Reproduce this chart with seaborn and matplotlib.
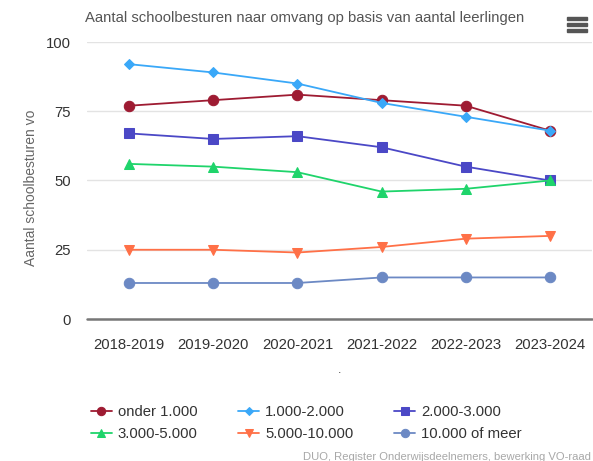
import pandas as pd
import seaborn as sns
import matplotlib
matplotlib.use('Agg')
import matplotlib.pyplot as plt
from matplotlib.patches import Rectangle

years = ['2018-2019', '2019-2020', '2020-2021', '2021-2022', '2022-2023', '2023-2024']
series = ['onder 1.000', '1.000-2.000', '2.000-3.000', '3.000-5.000', '5.000-10.000', '10.000 of meer']
onder_1000 = [77, 79, 81, 79, 77, 68]
v1000_2000 = [92, 89, 85, 78, 73, 68]
v2000_3000 = [67, 65, 66, 62, 55, 50]
v3000_5000 = [56, 55, 53, 46, 47, 50]
v5000_10000 = [25, 25, 24, 26, 29, 30]
v10000_meer = [13, 13, 13, 15, 15, 15]

colors = ['#9e1b32', '#3aa8f8', '#4b48c6', '#1fd46b', '#ff7047', '#6c89c4']
markers = ['o', 'D', 's', '^', 'v', 'o']
msizes = [7.5, 5.5, 7, 7, 7, 7.5]

rows = []
for name, vals in zip(series, [onder_1000, v1000_2000, v2000_3000, v3000_5000, v5000_10000, v10000_meer]):
    for y, v in zip(years, vals):
        rows.append({'jaar': y, 'reeks': name, 'aantal': v})
df = pd.DataFrame(rows)

sns.set_theme(style='white')
plt.rcParams['font.family'] = ['Liberation Sans', 'DejaVu Sans']

fig = plt.figure(figsize=(5.93, 4.61), dpi=100)
ax = fig.add_axes([87 / 593, 1 - 319 / 461, 505 / 593, 277 / 461])

for name, col, mk, ms in zip(series, colors, markers, msizes):
    sub = df[df['reeks'] == name]
    sns.lineplot(data=sub, x='jaar', y='aantal', ax=ax, color=col, marker=mk,
                 markersize=ms, markeredgecolor=col, linewidth=1.3, label=name,
                 sort=False, zorder=3)

ax.set_xlim(-0.5, 5.5)
ax.set_ylim(0, 100)
ax.set_yticks([0, 25, 50, 75, 100])
ax.grid(axis='y', color='#e3e3e3', linewidth=1)
ax.grid(axis='x', visible=False)
for s in ax.spines.values():
    s.set_visible(False)
ax.axhline(0, color='#777777', linewidth=1.8, zorder=4, clip_on=False)
ax.tick_params(axis='both', length=0, labelsize=10.7, colors='#333333')
ax.tick_params(axis='y', pad=11.5)
ax.tick_params(axis='x', pad=14)
ax.set_xlabel('.', fontsize=9, color='#444444', labelpad=8)
ax.set_ylabel('Aantal schoolbesturen vo', fontsize=10, color='#666666', labelpad=6)
ax.yaxis.label.set_y(0.475)

fig.text(305 / 593, 1 - 18 / 461, 'Aantal schoolbesturen naar omvang op basis van aantal leerlingen',
         ha='center', va='center', fontsize=10.75, color='#555555')

# menu icon
for yy in [17, 23, 29]:
    fig.patches.append(Rectangle((567 / 593, 1 - (yy + 3) / 461), 20 / 593, 3 / 461,
                                 transform=fig.transFigure, color='#555555'))

handles, labels = ax.get_legend_handles_labels()
ax.get_legend().remove()
order = [0, 3, 1, 4, 2, 5]
fig.legend([handles[i] for i in order], [labels[i] for i in order], ncol=3,
           loc='upper left', bbox_to_anchor=(91 / 593, 1 - 405 / 461), frameon=False,
           borderpad=0, borderaxespad=0, markerscale=0.8,
           fontsize=10.7, handlelength=1.4, handletextpad=0.4, columnspacing=2.75,
           labelspacing=0.55, labelcolor='#333333')

fig.text(591 / 593, 1 - 457 / 461, 'DUO, Register Onderwijsdeelnemers, bewerking VO-raad',
         ha='right', va='center', fontsize=8.15, color='#a8a8a8')

fig.savefig('out.png', dpi=100)
